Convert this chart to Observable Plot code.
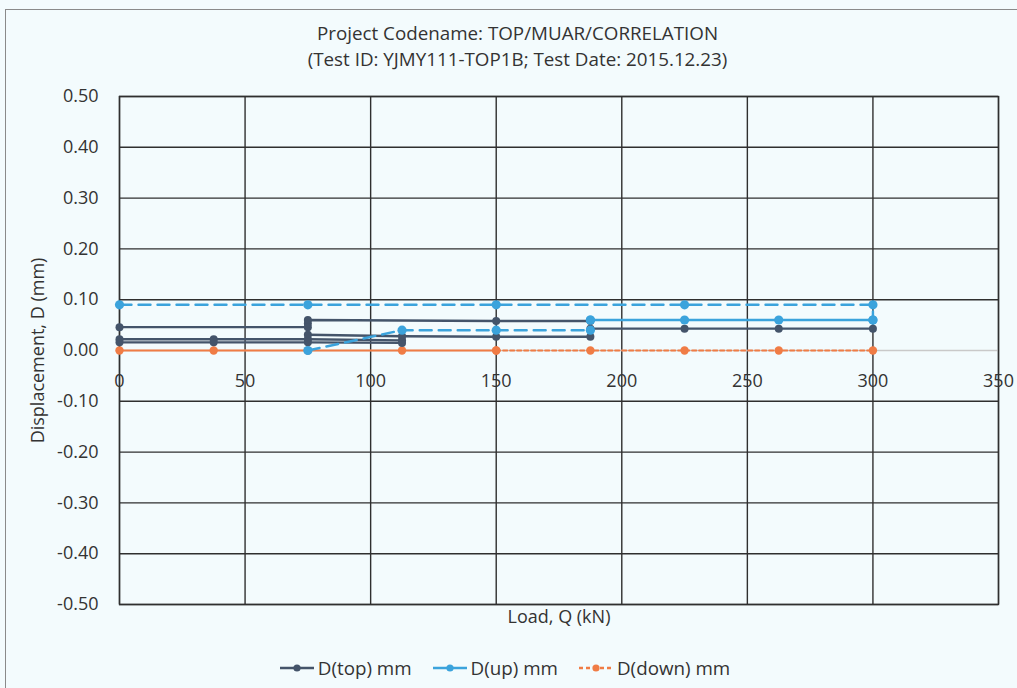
<!DOCTYPE html>
<html>
<head>
<meta charset="utf-8">
<script src="https://cdn.jsdelivr.net/npm/d3@7"></script>
<script src="https://cdn.jsdelivr.net/npm/@observablehq/plot@0.6"></script>
<style>
  html, body { margin: 0; padding: 0; background: #f3fbfd; }
  body { width: 1017px; height: 688px; overflow: hidden; position: relative; font-family: "Open Sans", sans-serif; color: #333; }
  #frame { position: absolute; left: 5px; top: 9px; width: 1030px; height: 700px; border: 1.5px solid #8a8a8a; box-sizing: border-box; }
  #title { position: absolute; top: 0; left: 0; width: 1017px; height: 80px; text-align: center; }
  #title div { position: absolute; width: 100%; left: 9px; font-size: 18.8px; line-height: 24px; }
  #chart { position: absolute; top: 80px; left: 0; }
  #legend { position: absolute; top: 655px; left: -4px; width: 1017px; display: flex; justify-content: center; gap: 20px; font-size: 18.8px; line-height: 26px; }
  .item { display: flex; align-items: center; gap: 3px; }
</style>
</head>
<body>
<div id="frame"></div>
<div id="title">
  <div style="top:21px">Project Codename: TOP/MUAR/CORRELATION</div>
  <div style="top:47px">(Test ID: YJMY111-TOP1B; Test Date: 2015.12.23)</div>
</div>
<div id="chart"></div>
<div id="legend"></div>
<script>
// ---- data ----
const xTicks = [0, 50, 100, 150, 200, 250, 300, 350];
const yTicks = [-0.5, -0.4, -0.3, -0.2, -0.1, 0, 0.1, 0.2, 0.3, 0.4, 0.5];

const seriesNames = ["D(top) mm", "D(up) mm", "D(down) mm"];

// D(top): load (kN), displacement (mm), path segment
const topLoad = [0, 75,   0, 37.5, 75, 112.5,   0, 37.5, 75, 112.5,   75, 75, 150, 187.5,   75, 112.5, 150, 187.5, 187.5, 225, 262.5, 300];
const topDisp = [0.046, 0.046,   0.022, 0.022, 0.022, 0.020,   0.016, 0.016, 0.016, 0.015,   0.053, 0.060, 0.058, 0.058,   0.031, 0.028, 0.027, 0.027, 0.043, 0.043, 0.043, 0.043];
const topSeg  = [1, 1,   2, 2, 2, 2,   3, 3, 3, 3,   4, 4, 4, 4,   5, 5, 5, 5, 5, 5, 5, 5];

// D(up)
const upLoad = [0, 75, 150, 225, 300, 300,   75, 112.5, 150, 187.5, 187.5,   187.5, 225, 262.5, 300];
const upDisp = [0.090, 0.090, 0.090, 0.090, 0.090, 0.060,   0.000, 0.040, 0.040, 0.040, 0.060,   0.060, 0.060, 0.060, 0.060];
const upSeg  = [1, 1, 1, 1, 1, 1,   2, 2, 2, 2, 2,   3, 3, 3, 3];

// D(down)
const downLoad = [0, 37.5, 75, 112.5, 150,   150, 187.5, 225, 262.5, 300];
const downDisp = [0, 0, 0, 0, 0,   0, 0, 0, 0, 0];
const downSeg  = [1, 1, 1, 1, 1,   2, 2, 2, 2, 2];

// ---- build tables ----
const rows = (xs, ys, ss, name) => xs.map((x, i) => ({load: x, disp: ys[i], seg: ss[i], series: name}));
const topRows = rows(topLoad, topDisp, topSeg, seriesNames[0]);
const upRows = rows(upLoad, upDisp, upSeg, seriesNames[1]);
const downRows = rows(downLoad, downDisp, downSeg, seriesNames[2]);

const colors = {"D(top) mm": "#44546a", "D(up) mm": "#3ba3dc", "D(down) mm": "#f07c45"};
const gridColor = "#2f2f2f";
const fs = 18;

const chart = Plot.plot({
  width: 1017,
  height: 560,
  marginLeft: 119,
  marginRight: 19,
  marginTop: 16,
  marginBottom: 36,
  style: {background: "transparent", fontFamily: "Open Sans, sans-serif", color: "#333"},
  x: {domain: [0, 350], axis: null},
  y: {domain: [-0.5, 0.5]},
  marks: [
    Plot.gridX(xTicks, {stroke: gridColor, strokeOpacity: 1, strokeWidth: 1.4}),
    Plot.gridY(yTicks.filter(d => d !== 0), {stroke: gridColor, strokeOpacity: 1, strokeWidth: 1.4}),
    Plot.ruleY([0], {stroke: "#c9c9c9", strokeWidth: 1.4}),
    Plot.frame({stroke: gridColor, strokeWidth: 1.4}),
    // D(down)
    Plot.line(downRows.filter(d => d.seg === 1), {x: "load", y: "disp", z: "seg", stroke: colors["D(down) mm"], strokeWidth: 2.2}),
    Plot.line(downRows.filter(d => d.seg === 2), {x: "load", y: "disp", z: "seg", stroke: colors["D(down) mm"], strokeWidth: 2.2, strokeDasharray: "4,3"}),
    // D(top)
    Plot.line(topRows, {x: "load", y: "disp", z: "seg", stroke: colors["D(top) mm"], strokeWidth: 2.4}),
    // D(up)
    Plot.line(upRows.filter(d => d.seg !== 3), {x: "load", y: "disp", z: "seg", stroke: colors["D(up) mm"], strokeWidth: 2.4, strokeDasharray: "12,7"}),
    Plot.line(upRows.filter(d => d.seg === 3), {x: "load", y: "disp", z: "seg", stroke: colors["D(up) mm"], strokeWidth: 2.4}),
    Plot.dot(downRows, {x: "load", y: "disp", r: 4.2, fill: colors["D(down) mm"]}),
    Plot.dot(topRows, {x: "load", y: "disp", r: 4, fill: colors["D(top) mm"]}),
    Plot.dot(upRows, {x: "load", y: "disp", r: 4.6, fill: colors["D(up) mm"]}),
    // axes
    Plot.axisY(yTicks, {tickSize: 0, tickPadding: 21, tickFormat: d => d.toFixed(2), fontSize: fs,
      label: "Displacement, D (mm)", labelAnchor: "center", labelArrow: "none", labelOffset: 88}),
    Plot.text(xTicks, {x: d => d, y: () => 0, text: d => String(d), dy: 31, fontSize: fs, fill: "#333"}),
    Plot.text(["Load, Q (kN)"], {frameAnchor: "bottom", dy: 18, fontSize: fs, fill: "#333"})
  ]
});
document.getElementById("chart").appendChild(chart);

// ---- legend ----
const dashes = {"D(top) mm": null, "D(up) mm": null, "D(down) mm": "4,3"};
const legend = document.getElementById("legend");
for (const name of seriesNames) {
  const item = document.createElement("div");
  item.className = "item";
  const c = colors[name];
  item.innerHTML = `<svg width="36" height="12"><line x1="1" x2="35" y1="6" y2="6" stroke="${c}" stroke-width="2.4" ${dashes[name] ? `stroke-dasharray="${dashes[name]}"` : ""}/><circle cx="18" cy="6" r="3.6" fill="${c}"/></svg><span>${name}</span>`;
  legend.appendChild(item);
}
</script>
</body>
</html>
